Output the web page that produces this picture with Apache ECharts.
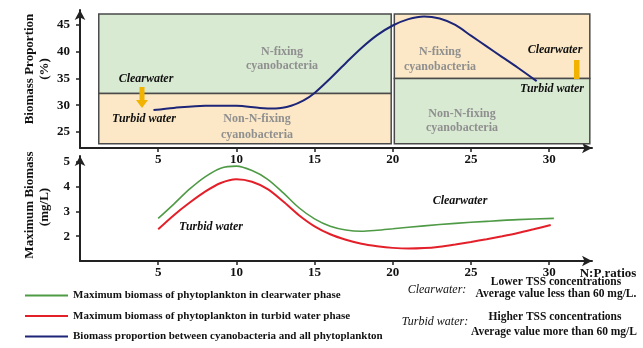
<!DOCTYPE html>
<html>
<head>
<meta charset="utf-8">
<script src="https://cdn.jsdelivr.net/npm/echarts@6/dist/echarts.min.js"></script>
<style>html,body{margin:0;padding:0;background:#fff}#c{width:643px;height:348px}</style>
</head>
<body>
<div id="c"></div>
<script>
// ---- data ----
const xTicks = [5, 10, 15, 20, 25, 30];
const proportionTicks = [25, 30, 35, 40, 45];
const biomassTicks = [2, 3, 4, 5];

const blueX = [4.7, 6, 8, 10, 11.5, 12.5, 13.5, 14.3, 15, 16, 17, 18, 19, 20, 21, 22, 23, 24, 25, 26, 27, 28, 29.2];
const blueY = [29.1, 29.5, 29.9, 29.9, 29.5, 29.4, 29.9, 30.9, 32.3, 35.0, 37.9, 40.7, 43.1, 44.9, 46.1, 46.6, 46.2, 45.0, 43.0, 41.0, 39.0, 37.0, 34.5];

const greenX = [5, 6, 7, 8, 9, 10, 11, 12, 13, 14, 15, 16, 17, 18, 19, 20, 22, 24, 26, 28, 30.3];
const greenY = [2.72, 3.3, 3.9, 4.4, 4.75, 4.83, 4.65, 4.3, 3.75, 3.15, 2.7, 2.4, 2.25, 2.2, 2.24, 2.3, 2.42, 2.52, 2.6, 2.67, 2.72];

const redX = [5, 6, 7, 8, 9, 10, 11, 12, 13, 14, 15, 16, 17, 18, 19, 20, 21, 22, 23, 24, 25, 26, 27, 28, 29, 30.1];
const redY = [2.28, 2.85, 3.35, 3.8, 4.15, 4.3, 4.2, 3.9, 3.4, 2.85, 2.4, 2.08, 1.86, 1.7, 1.6, 1.53, 1.5, 1.52, 1.58, 1.67, 1.77, 1.88, 2.0, 2.13, 2.28, 2.45];

// regions: [xStart, xEnd, yStart, yEnd] and kind
const regionX1 = [1.2, 1.2, 20.1, 20.1];
const regionX2 = [19.9, 19.9, 32.6, 32.6];
const regionY1 = [32.2, 22.8, 35, 22.8];
const regionY2 = [47.05, 32.2, 47.05, 35];
const regionKind = ['green', 'orange', 'orange', 'green'];

const seriesNames = [
  'Maximum biomass of phytoplankton in clearwater phase',
  'Maximum biomass of phytoplankton in turbid water phase',
  'Biomass proportion between cyanobacteria and all phytoplankton'
];

// ---- build ----
const zip = (a, b) => a.map((v, i) => [v, b[i]]);
const regionData = regionX1.map((v, i) => [v, regionX2[i], regionY1[i], regionY2[i], i]);
const fills = { green: '#d9ead3', orange: '#fce8c6' };
const SERIF = '"Liberation Serif", "Times New Roman", serif';
const axisCol = '#222';

function xAxisCfg(gi, max) {
  return {
    type: 'value', gridIndex: gi, min: 0, max: max,
    axisLine: { show: true, symbol: ['none', 'arrow'], symbolSize: [8, 10], lineStyle: { color: axisCol, width: 2 } },
    axisTick: { show: true, customValues: xTicks, length: 4, lineStyle: { color: axisCol, width: 1.5 } },
    axisLabel: { customValues: xTicks, margin: 5, color: '#111', fontFamily: SERIF, fontWeight: 'bold', fontSize: 13 },
    splitLine: { show: false }
  };
}
function yAxisCfg(gi, min, max, ticks) {
  return {
    type: 'value', gridIndex: gi, min: min, max: max,
    axisLine: { show: true, symbol: ['none', 'arrow'], symbolSize: [8, 10], lineStyle: { color: axisCol, width: 2 } },
    axisTick: { show: true, customValues: ticks, length: 4, lineStyle: { color: axisCol, width: 1.5 } },
    axisLabel: { customValues: ticks, margin: 10, color: '#111', fontFamily: SERIF, fontWeight: 'bold', fontSize: 13 },
    splitLine: { show: false }
  };
}

function txt(text, x, y, opts) {
  return {
    type: 'text', z: 100, x: x, y: y,
    style: Object.assign({
      text: text, x: 0, y: 0, align: 'center', verticalAlign: 'middle',
      font: 'bold 12px ' + SERIF, fill: '#111'
    }, opts || {})
  };
}
const gray = '#8f8f8f';
const graphics = [
  // y axis names
  Object.assign(txt('Biomass Proportion', 30, 69, { font: 'bold 13px ' + SERIF }), { rotation: Math.PI / 2 }),
  Object.assign(txt('(%)', 45, 69, { font: 'bold 13px ' + SERIF }), { rotation: Math.PI / 2 }),
  Object.assign(txt('Maximum Biomass', 30, 205, { font: 'bold 13px ' + SERIF }), { rotation: Math.PI / 2 }),
  Object.assign(txt('(mg/L)', 45, 207, { font: 'bold 13px ' + SERIF }), { rotation: Math.PI / 2 }),
  // region labels
  txt('N-fixing', 282, 52, { fill: gray }),
  txt('cyanobacteria', 282, 66, { fill: gray }),
  txt('Non-N-fixing', 257, 119, { fill: gray }),
  txt('cyanobacteria', 257, 135, { fill: gray }),
  txt('N-fixing', 440, 52, { fill: gray }),
  txt('cyanobacteria', 440, 67, { fill: gray }),
  txt('Non-N-fixing', 462, 114, { fill: gray }),
  txt('cyanobacteria', 462, 128, { fill: gray }),
  // phase labels
  txt('Clearwater', 146, 79, { font: 'italic bold 12px ' + SERIF }),
  txt('Turbid water', 144, 119, { font: 'italic bold 12px ' + SERIF }),
  txt('Clearwater', 555, 50, { font: 'italic bold 12px ' + SERIF }),
  txt('Turbid water', 552, 89, { font: 'italic bold 12px ' + SERIF }),
  txt('Turbid water', 211, 227, { font: 'italic bold 12px ' + SERIF }),
  txt('Clearwater', 460, 201, { font: 'italic bold 12px ' + SERIF }),
  // x axis name
  txt('N:P ratios', 608, 274, { font: 'bold 13px ' + SERIF }),
  // notes
  txt('Clearwater:', 437, 290, { font: 'italic 12px ' + SERIF }),
  txt('Lower TSS concentrations', 556, 282, { font: 'bold 11.5px ' + SERIF }),
  txt('Average value less than 60 mg/L.', 556, 294, { font: 'bold 11.5px ' + SERIF }),
  txt('Turbid water:', 435, 322, { font: 'italic 12px ' + SERIF }),
  txt('Higher TSS concentrations', 555, 317, { font: 'bold 11.5px ' + SERIF }),
  txt('Average value more than 60 mg/L', 554, 332, { font: 'bold 11.5px ' + SERIF }),
  // arrows
  { type: 'polygon', z: 100, shape: { points: [[139.5, 87], [144.5, 87], [144.5, 100], [148, 100], [142, 108], [136, 100], [139.5, 100]] }, style: { fill: '#f2b200' } },
  { type: 'rect', z: 100, shape: { x: 574, y: 60, width: 5.5, height: 19 }, style: { fill: '#f2b200' } }
];

const chart = echarts.init(document.getElementById('c'), null, { renderer: 'canvas' });
chart.setOption({
  animation: false,
  backgroundColor: '#fff',
  grid: [
    { left: 80, top: 10, width: 512, height: 138 },
    { left: 80, top: 156, width: 512, height: 105 }
  ],
  xAxis: [xAxisCfg(0, 32.74), xAxisCfg(1, 32.74)],
  yAxis: [yAxisCfg(0, 22, 47.8, proportionTicks), yAxisCfg(1, 1, 5.24, biomassTicks)],
  legend: {
    orient: 'vertical', left: 20, top: 284, itemWidth: 43, itemHeight: 2, itemGap: 7.5,
    icon: 'rect', data: seriesNames, selectedMode: false,
    textStyle: { fontFamily: SERIF, fontWeight: 'bold', fontSize: 11, color: '#111', lineHeight: 13 }
  },
  graphic: graphics,
  series: [
    {
      type: 'custom', name: 'regions', xAxisIndex: 0, yAxisIndex: 0, z: 1, silent: true,
      data: regionData,
      renderItem: function (params, api) {
        const p1 = api.coord([api.value(0), api.value(3)]);
        const p2 = api.coord([api.value(1), api.value(2)]);
        return {
          type: 'rect',
          shape: { x: p1[0], y: p1[1], width: p2[0] - p1[0], height: p2[1] - p1[1] },
          style: { fill: fills[regionKind[api.value(4)]], stroke: '#4a4a4a', lineWidth: 1.5 }
        };
      }
    },
    {
      type: 'line', name: seriesNames[0], xAxisIndex: 1, yAxisIndex: 1, z: 3,
      data: zip(greenX, greenY), smooth: 0.3, showSymbol: false,
      lineStyle: { color: '#4e9a45', width: 1.6 }, itemStyle: { color: '#4e9a45' }
    },
    {
      type: 'line', name: seriesNames[1], xAxisIndex: 1, yAxisIndex: 1, z: 3,
      data: zip(redX, redY), smooth: 0.3, showSymbol: false,
      lineStyle: { color: '#e3202a', width: 2 }, itemStyle: { color: '#e3202a' }
    },
    {
      type: 'line', name: seriesNames[2], xAxisIndex: 0, yAxisIndex: 0, z: 3,
      data: zip(blueX, blueY), smooth: 0.3, showSymbol: false,
      lineStyle: { color: '#1c2577', width: 2 }, itemStyle: { color: '#1c2577' }
    }
  ]
});
</script>
</body>
</html>
